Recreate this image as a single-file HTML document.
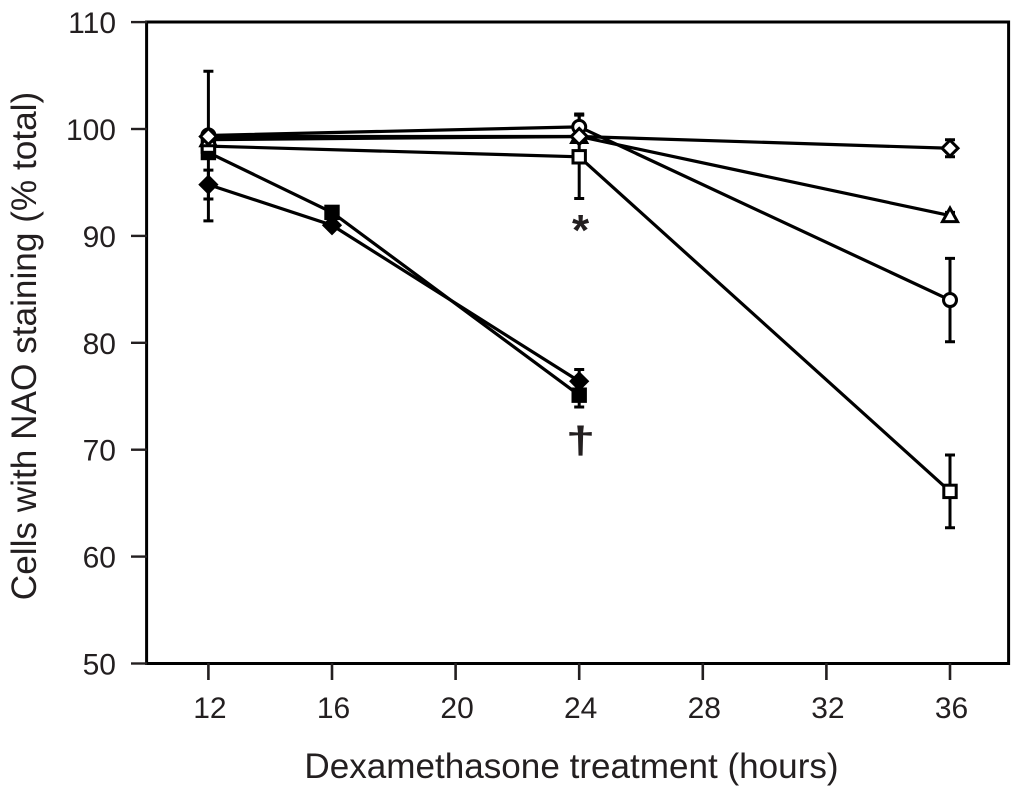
<!DOCTYPE html>
<html>
<head>
<meta charset="utf-8">
<title>Cells with NAO staining</title>
<style>
html,body{margin:0;padding:0;background:#fff;width:1024px;height:795px;overflow:hidden}
svg{display:block}
text{font-family:"Liberation Sans",Arial,sans-serif;fill:#231f20}
</style>
</head>
<body>
<svg id="chart" xmlns="http://www.w3.org/2000/svg" width="1024" height="795" viewBox="0 0 1024 795"></svg>
<script>
const xTicks = [12, 16, 20, 24, 28, 32, 36];
const yTicks = [50, 60, 70, 80, 90, 100, 110];

const hoursFilledSquare = [12, 16, 24];
const valuesFilledSquare = [97.8, 92.2, 75.1];
const errorsFilledSquare = [0, 0.3, 1.1];

const hoursFilledDiamond = [12, 16, 24];
const valuesFilledDiamond = [94.8, 91.0, 76.4];
const errorsFilledDiamond = [1.35, 0.3, 1.1];

const hoursOpenSquare = [12, 24, 36];
const valuesOpenSquare = [98.4, 97.4, 66.1];
const errorsOpenSquare = [7.0, 3.9, 3.4];

const hoursOpenTriangle = [12, 24, 36];
const valuesOpenTriangle = [99.0, 99.3, 91.9];
const errorsOpenTriangle = [0, 0, 0.3];

const hoursOpenCircle = [12, 24, 36];
const valuesOpenCircle = [99.4, 100.2, 84.0];
const errorsOpenCircle = [0, 1.2, 3.9];

const hoursOpenDiamond = [12, 24, 36];
const valuesOpenDiamond = [99.3, 99.3, 98.2];
const errorsOpenDiamond = [0.4, 0.4, 0.8];

const xTitle = 'Dexamethasone treatment (hours)';
const yTitle = 'Cells with NAO staining (% total)';

const svg = document.getElementById('chart');
const NS = 'http://www.w3.org/2000/svg';
const INK = '#000';
const xScale = h => 146.6 + (h - 10) * 30.9;
const yScale = v => 663.5 - (v - 50) * 10.69;

function add(tag, attrs, parent) {
  const el = document.createElementNS(NS, tag);
  for (const k in attrs) el.setAttribute(k, attrs[k]);
  (parent || svg).appendChild(el);
  return el;
}

const frame = add('rect', {x: 146.6, y: 22, width: 862, height: 641.5, fill: 'none', stroke: INK, 'stroke-width': 3});



yTicks.forEach(v => {
  const y = yScale(v);
  const t = add('line', {x1: 131, x2: 147, y1: y, y2: y, stroke: '#231f20', 'stroke-width': 2.4});
  
  
  const l = add('text', {x: 116, y: y + 11, 'text-anchor': 'end', 'font-size': 30});
  
  
  l.textContent = v;
});

xTicks.forEach(h => {
  const x = xScale(h);
  const t = add('line', {x1: x, x2: x, y1: 663, y2: 680, stroke: '#231f20', 'stroke-width': 2.6});
  
  
  const l = add('text', {x: x + 1.5, y: 718, 'text-anchor': 'middle', 'font-size': 30});
  
  
  l.textContent = h;
});

const xt = add('text', {x: 571.5, y: 778, 'text-anchor': 'middle', 'font-size': 35.1});


xt.textContent = xTitle;

const yt = add('text', {transform: 'translate(36,346) rotate(-90)', 'text-anchor': 'middle', 'font-size': 35.2});


yt.textContent = yTitle;

function drawMarker(group, kind, cx, cy, filled) {
  const fill = filled ? INK : '#fff';
  const common = {fill: fill, stroke: INK, 'stroke-width': 3};
  let m;
  if (kind === 'square') {
    m = add('rect', Object.assign({x: cx - 6.2, y: cy - 6.2, width: 12.4, height: 12.4}, common), group);
  } else if (kind === 'diamond') {
    const r = 8;
    m = add('polygon', Object.assign({points: [cx, cy - r, cx + r, cy, cx, cy + r, cx - r, cy].join(' ')}, common), group);
  } else if (kind === 'circle') {
    m = add('circle', Object.assign({cx: cx, cy: cy, r: 6.5}, common), group);
  } else {
    m = add('polygon', Object.assign({points: [cx, cy - 7.5, cx + 7.5, cy + 6, cx - 7.5, cy + 6].join(' ')}, common), group);
  }
  
  
}

function drawSeries(name, kind, filled, hours, values, errors) {
  const g = add('g', {});
  
  
  hours.forEach((h, i) => {
    if (!errors[i]) return;
    const x = xScale(h), hi = yScale(values[i] + errors[i]), lo = yScale(values[i] - errors[i]);
    const path = add('path', {
      d: `M${x} ${hi}V${lo}M${x - 5} ${hi}H${x + 5}M${x - 5} ${lo}H${x + 5}`,
      fill: 'none', stroke: INK, 'stroke-width': 3
    }, g);
    
    
  });
  const line = add('polyline', {
    points: hours.map((h, i) => xScale(h) + ',' + yScale(values[i])).join(' '),
    fill: 'none', stroke: INK, 'stroke-width': 3.2
  }, g);
  
  
  hours.forEach((h, i) => drawMarker(g, kind, xScale(h), yScale(values[i]), filled));
}

drawSeries('series-filled-square', 'square', true, hoursFilledSquare, valuesFilledSquare, errorsFilledSquare);
drawSeries('series-filled-diamond', 'diamond', true, hoursFilledDiamond, valuesFilledDiamond, errorsFilledDiamond);
drawSeries('series-open-square', 'square', false, hoursOpenSquare, valuesOpenSquare, errorsOpenSquare);
drawSeries('series-open-triangle', 'triangle', false, hoursOpenTriangle, valuesOpenTriangle, errorsOpenTriangle);
drawSeries('series-open-circle', 'circle', false, hoursOpenCircle, valuesOpenCircle, errorsOpenCircle);
drawSeries('series-open-diamond', 'diamond', false, hoursOpenDiamond, valuesOpenDiamond, errorsOpenDiamond);

const star = add('text', {x: 580.5, y: 245, 'text-anchor': 'middle', 'font-size': 44, 'font-weight': 'bold'});


star.textContent = '*';

const dagger = add('text', {transform: 'translate(580.5,453) scale(1.4,1)', 'text-anchor': 'middle', 'font-size': 38, 'font-weight': 'bold'});


dagger.textContent = '†';
</script>
</body>
</html>
